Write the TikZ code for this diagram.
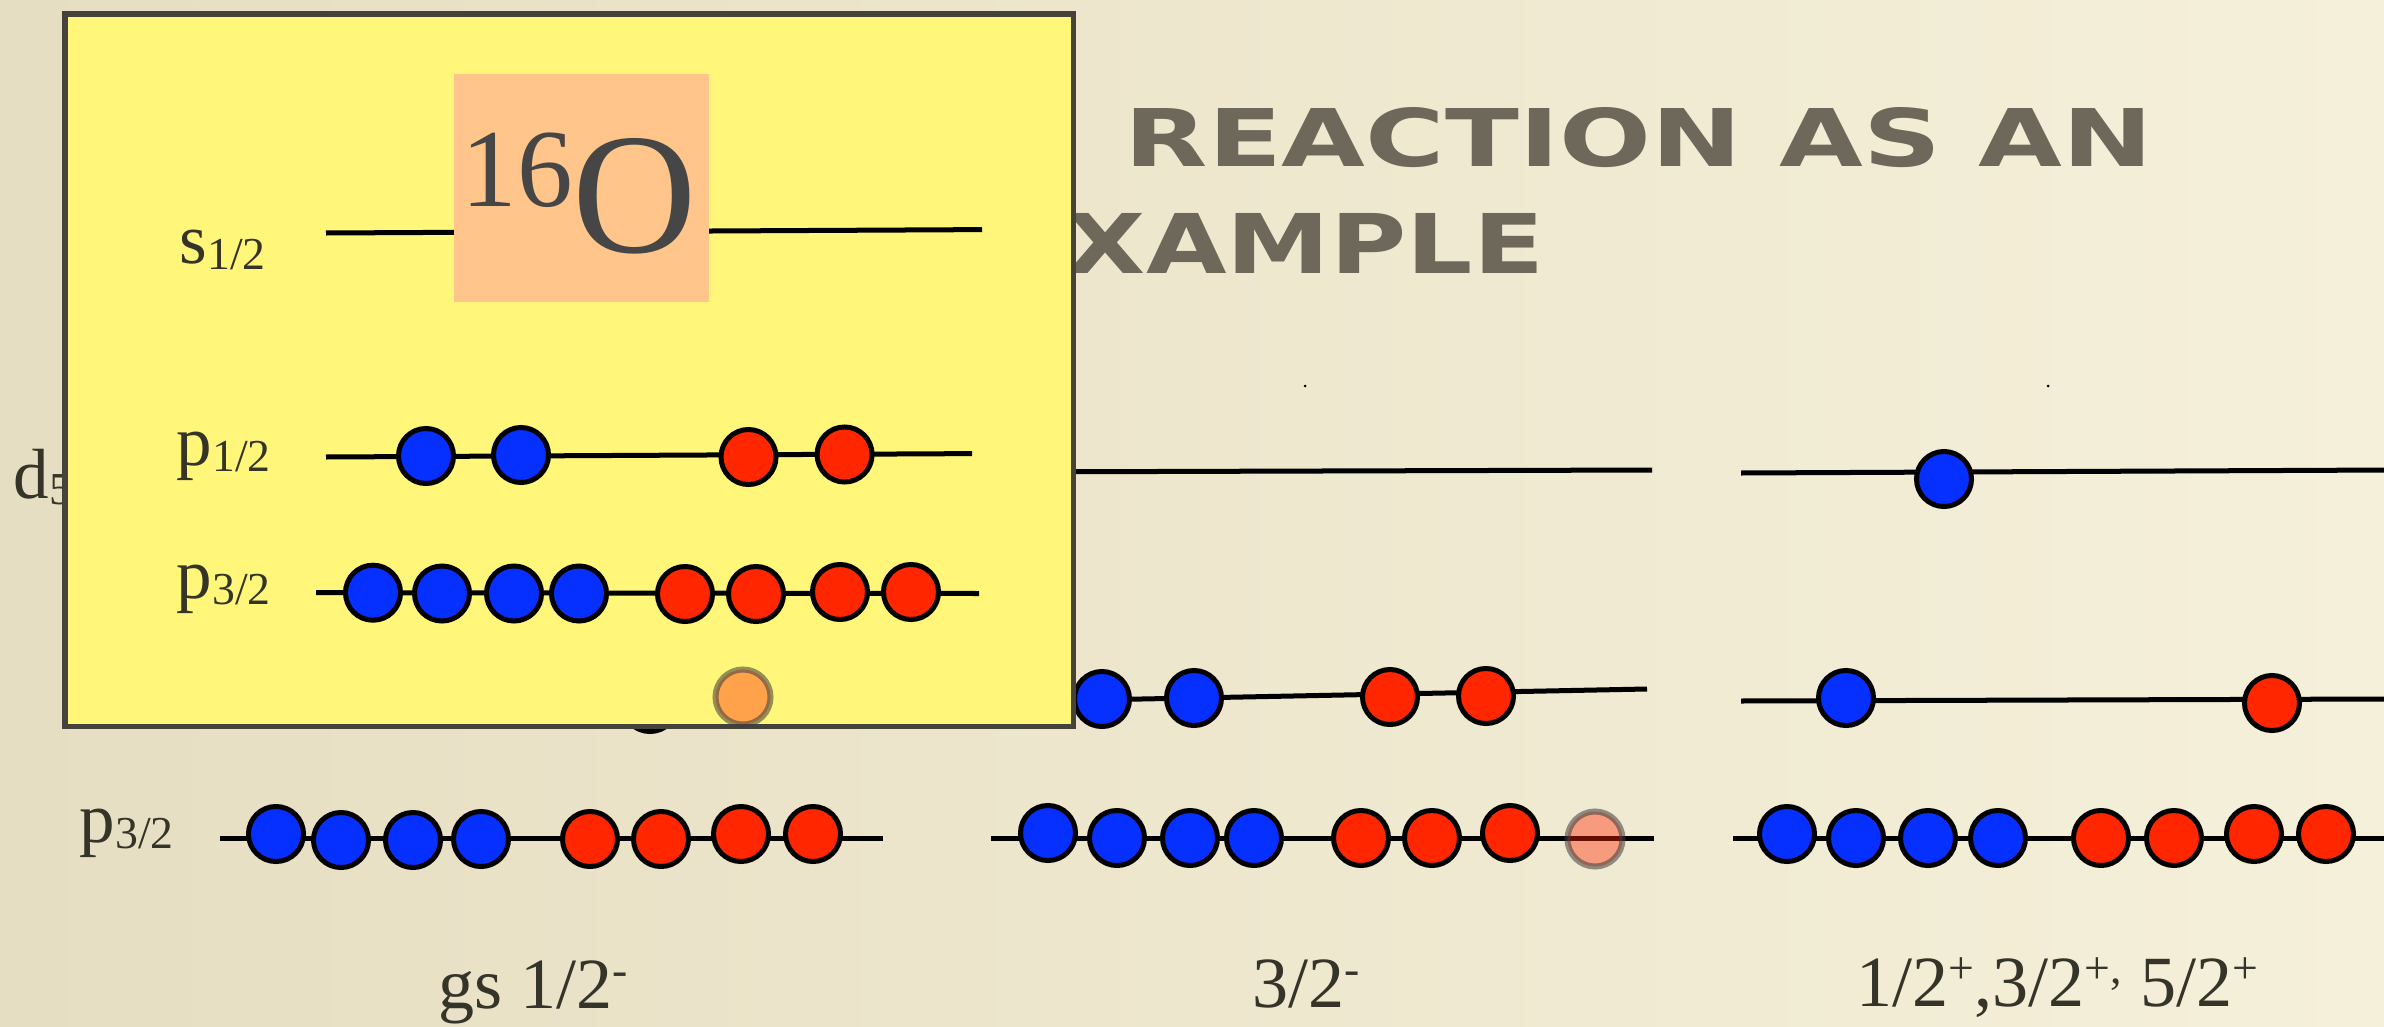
\documentclass[tikz,border=0pt]{standalone}
\usepackage{fontspec}
\setmainfont{Liberation Serif}
\newfontfamily\titlefont{DejaVu Sans}
\definecolor{bgL}{RGB}{230,222,194}
\definecolor{bgM}{RGB}{248,244,226}
\definecolor{bgR}{RGB}{245,240,218}
\definecolor{titlecol}{RGB}{110,104,90}
\definecolor{labcol}{RGB}{52,52,40}
\definecolor{boxfill}{RGB}{255,246,122}
\definecolor{boxline}{RGB}{68,66,58}
\definecolor{sqfill}{RGB}{255,197,138}
\definecolor{nblue}{RGB}{5,48,255}
\definecolor{pred}{RGB}{255,38,0}
\definecolor{ghostline}{RGB}{60,60,60}
\definecolor{ocol}{RGB}{70,70,70}
\newcommand\orb[2]{{\fontsize{20.2}{24}\selectfont #1}\raisebox{-0.06cm}{\fontsize{13}{15}\selectfont #2}}
\newcommand\sups[1]{\raisebox{6.5pt}{\fontsize{13}{15}\selectfont #1}}
\tikzset{
  lev/.style={line width=0.05cm, draw=black},
  nuc/.style={circle, draw=black, line width=0.05cm, minimum size=0.55cm, inner sep=0pt},
  neu/.style={nuc, fill=nblue},
  pro/.style={nuc, fill=pred},
  ghost/.style={circle, minimum size=0.55cm, inner sep=0pt, fill=pred, fill opacity=0.4, draw=ghostline, draw opacity=0.55, line width=0.06cm},
  lab/.style={inner sep=0pt, anchor=base west, text=labcol},
  jlab/.style={inner sep=0pt, anchor=base west, text=labcol, font=\fontsize{20.5}{24}\selectfont},
  ttl/.style={inner sep=0pt, anchor=base west, text=titlecol},
}
\begin{document}
\begin{tikzpicture}[x=0.01cm, y=-0.01cm]
\useasboundingbox (0,0) rectangle (2384,1027);
\clip (0,0) rectangle (2384,1027);
\shade[left color=bgL, middle color=bgM, right color=bgR] (0,0) rectangle (2384,1027);

% title (partly covered by the inset box)
\node[ttl] (t1) at (1124,166) {\resizebox{10.28cm}{0.59cm}{\titlefont\bfseries REACTION AS AN}};
\node[ttl] (t2) at (994,273) {\resizebox{5.49cm}{0.60cm}{\titlefont\bfseries EXAMPLE}};

% specks
\fill[black] (1305,386) circle (1.5);
\fill[black] (2048,386) circle (1.5);

% main labels
\node[lab] (ld) at (13,498) {\orb{d}{5/2}};
\node[lab] (lp3) at (79,842) {\orb{p}{3/2}};

% column 1
\coordinate (c1a) at (220,838); \coordinate (c1b) at (883,838);
\draw[lev] (c1a) -- (c1b);
\node[neu] (c1n1) at (276,834) {};
\node[neu] (c1n2) at (341,840) {};
\node[neu] (c1n3) at (413,840) {};
\node[neu] (c1n4) at (481,839) {};
\node[pro] (c1p1) at (590,839) {};
\node[pro] (c1p2) at (661,839) {};
\node[pro] (c1p3) at (741,834) {};
\node[pro] (c1p4) at (813,834) {};
\node[neu] (c1h) at (650,704) {};

% column 2
\coordinate (c2da) at (990,472); \coordinate (c2db) at (1652,470);
\draw[lev] (c2da) -- (c2db);
\coordinate (c2pa) at (990,702); \coordinate (c2pb) at (1647,689);
\draw[lev] (c2pa) -- (c2pb);
\node[neu] (c2m1) at (1102,699) {};
\node[neu] (c2m2) at (1194,698) {};
\node[pro] (c2m3) at (1390,697) {};
\node[pro] (c2m4) at (1486,696) {};
\coordinate (c2qa) at (991,838); \coordinate (c2qb) at (1654,838);
\draw[lev] (c2qa) -- (c2qb);
\node[neu] (c2n1) at (1048,833) {};
\node[neu] (c2n2) at (1117,838) {};
\node[neu] (c2n3) at (1190,838) {};
\node[neu] (c2n4) at (1254,838) {};
\node[pro] (c2p1) at (1361,838) {};
\node[pro] (c2p2) at (1432,838) {};
\node[pro] (c2p3) at (1510,833) {};
\node[ghost] (c2g) at (1595,839) {};

% column 3
\coordinate (c3da) at (1741,473); \coordinate (c3db) at (2390,470);
\draw[lev] (c3da) -- (c3db);
\node[neu] (c3d1) at (1944,479) {};
\coordinate (c3pa) at (1741,701); \coordinate (c3pb) at (2390,699);
\draw[lev] (c3pa) -- (c3pb);
\node[neu] (c3m1) at (1846,698) {};
\node[pro] (c3m2) at (2272,703) {};
\coordinate (c3qa) at (1733,838); \coordinate (c3qb) at (2390,838);
\draw[lev] (c3qa) -- (c3qb);
\node[neu] (c3n1) at (1787,834) {};
\node[neu] (c3n2) at (1856,838) {};
\node[neu] (c3n3) at (1928,838) {};
\node[neu] (c3n4) at (1998,838) {};
\node[pro] (c3p1) at (2101,838) {};
\node[pro] (c3p2) at (2174,838) {};
\node[pro] (c3p3) at (2254,834) {};
\node[pro] (c3p4) at (2326,834) {};

% bottom labels
\node[jlab] (j1) at (438,1008) {gs 1/2\sups{-}};
\node[jlab] (j2) at (1252,1007) {3/2\sups{-}};
\node[jlab] (j3) at (1856,1006) {1/2\sups{+},3/2\sups{+,} 5/2\sups{+}};

% inset box
\draw[fill=boxfill, draw=boxline, line width=0.05cm] (65,14) rectangle (1073,726);
\coordinate (isa) at (326,233); \coordinate (isb) at (982,229.6);
\draw[lev] (isa) -- (isb);
\fill[sqfill] (454,74) rectangle (708.5,302);
\node[inner sep=0pt, anchor=base west, text=ocol] (o16) at (461,252)
  {{\fontsize{31.6}{36}\selectfont\raisebox{0.45cm}{16}}{\fontsize{49}{56}\selectfont O}};
\node[lab] (ils) at (179,263) {\orb{s}{1/2}};
\node[lab] (ilp1) at (176,465) {\orb{p}{1/2}};
\node[lab] (ilp3) at (176,598) {\orb{p}{3/2}};
\coordinate (ipa) at (326,457); \coordinate (ipb) at (972,453.6);
\draw[lev] (ipa) -- (ipb);
\node[neu] (im1) at (426,456) {};
\node[neu] (im2) at (521,455) {};
\node[pro] (im3) at (748.5,457) {};
\node[pro] (im4) at (844.6,454.5) {};
\coordinate (iqa) at (316,592.7); \coordinate (iqb) at (979,593.5);
\draw[lev] (iqa) -- (iqb);
\node[neu] (in1) at (373,592.7) {};
\node[neu] (in2) at (442,593.5) {};
\node[neu] (in3) at (514,593.5) {};
\node[neu] (in4) at (579,593.5) {};
\node[pro] (ip1) at (685,594) {};
\node[pro] (ip2) at (756,594) {};
\node[pro] (ip3) at (840,592) {};
\node[pro] (ip4) at (911,592) {};

% faded particle on top of the box
\node[ghost] (g1) at (743,697) {};
\end{tikzpicture}
\end{document}
